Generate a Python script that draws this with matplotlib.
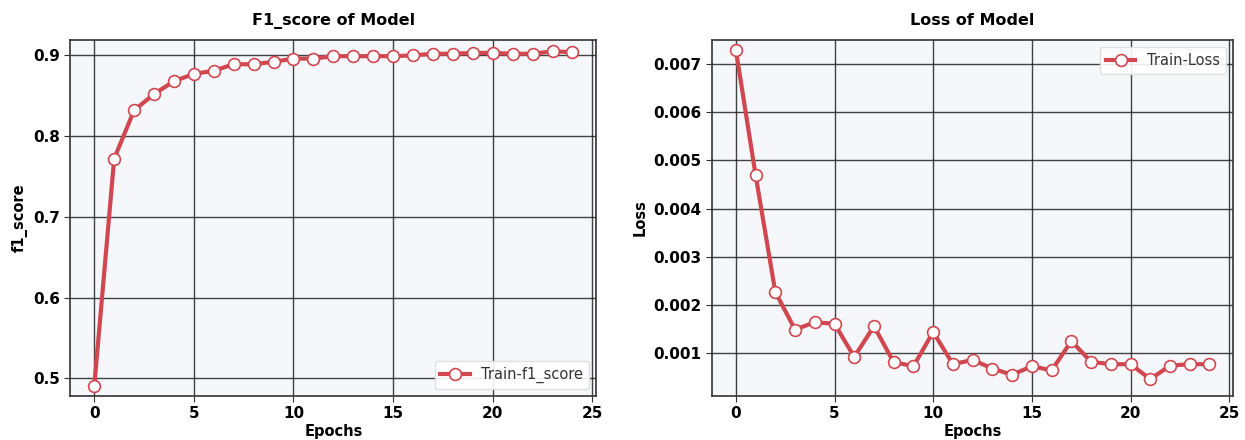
import matplotlib
matplotlib.use('Agg')
import matplotlib.pyplot as plt

# Training history
epochs = list(range(25))
train_f1 = [0.490, 0.772, 0.832, 0.852, 0.868, 0.877, 0.881, 0.889, 0.889,
            0.892, 0.896, 0.896, 0.899, 0.899, 0.899, 0.899, 0.900, 0.902,
            0.902, 0.903, 0.903, 0.902, 0.902, 0.905, 0.904]
train_loss = [0.00730, 0.00470, 0.00227, 0.00149, 0.00164, 0.00161, 0.00092,
              0.00156, 0.00081, 0.00073, 0.00144, 0.00077, 0.00086, 0.00068,
              0.00055, 0.00073, 0.00064, 0.00125, 0.00082, 0.00077, 0.00077,
              0.00046, 0.00074, 0.00077, 0.00077]

RED = '#d0474f'
BG = '#f6f7fb'


def style_axes(ax, title, ylabel):
    ax.set_facecolor(BG)
    ax.grid(True, color='#222222', linewidth=1.0, alpha=0.85)
    ax.set_axisbelow(True)
    for sp in ax.spines.values():
        sp.set_color('#333333')
        sp.set_linewidth(1.2)
    ax.set_title(title, fontsize=11.5, fontweight='bold', pad=11)
    ax.set_xlabel('Epochs', fontsize=10.5, fontweight='bold', labelpad=2)
    ax.set_ylabel(ylabel, fontsize=10.5, fontweight='bold')
    ax.tick_params(labelsize=11, length=4, color='#333333')
    ax.set_xticks([0, 5, 10, 15, 20, 25])
    for lab in ax.get_xticklabels() + ax.get_yticklabels():
        lab.set_fontweight('bold')


def plot_curve(ax, y, label):
    ax.plot(epochs, y, color=RED, linewidth=3, marker='o', markersize=8.5,
            markerfacecolor='white', markeredgecolor=RED, markeredgewidth=1.2,
            label=label)


fig = plt.figure(figsize=(12.45, 4.4), dpi=100)
ax1 = fig.add_axes([0.0565, 0.1, 0.4225, 0.809])
ax2 = fig.add_axes([0.572, 0.1, 0.4185, 0.809])

plot_curve(ax1, train_f1, 'Train-f1_score')
ax1.set_yticks([0.5, 0.6, 0.7, 0.8, 0.9])
ax1.set_ylim(0.478, 0.919)
style_axes(ax1, 'F1_score of Model', 'f1_score')
ax1.legend(loc='lower right', fontsize=10.5, framealpha=0.9,
           edgecolor='#dddddd', labelcolor='#333333')

plot_curve(ax2, train_loss, 'Train-Loss')
ax2.set_yticks([0.001, 0.002, 0.003, 0.004, 0.005, 0.006, 0.007])
ax2.set_yticklabels(['0.001', '0.002', '0.003', '0.004', '0.005', '0.006', '0.007'])
ax2.set_ylim(0.00011, 0.0075)
style_axes(ax2, 'Loss of Model', 'Loss')
ax2.legend(loc='upper right', fontsize=10.5, framealpha=0.9,
           edgecolor='#dddddd', labelcolor='#333333')

fig.savefig('out.png', dpi=100, facecolor='white')
plt.close(fig)
